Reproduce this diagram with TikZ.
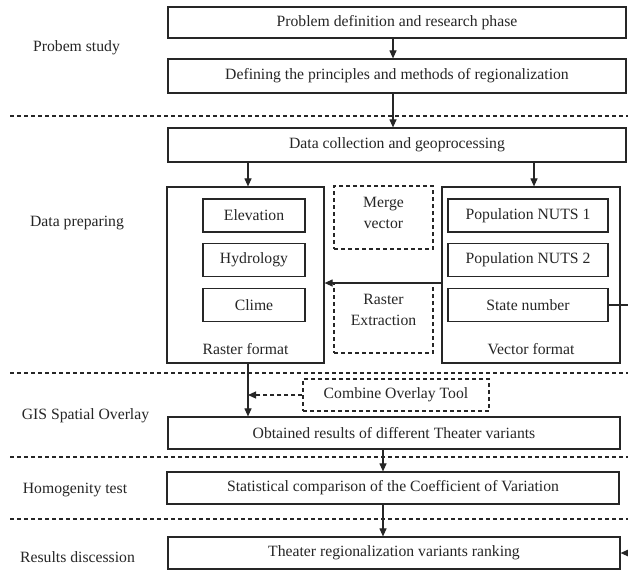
\documentclass[tikz,border=0pt]{standalone}
\usepackage{fontspec}
\setmainfont{Liberation Serif}
\usetikzlibrary{arrows.meta}
\definecolor{ink}{HTML}{262626}
\tikzset{
  txt/.style={font=\fontsize{15.7}{18}\selectfont, text=ink, inner sep=0pt},
  solidbox/.style={txt, draw=ink, line width=1.2pt, rectangle, align=center},
  dashbox/.style={txt, draw=ink, line width=1.1pt, rectangle, align=center, dash pattern=on 4pt off 3pt},
  sep/.style={draw=ink, line width=1.1pt, dash pattern=on 4pt off 3pt},
  arr/.style={draw=ink, line width=1.1pt, -{Triangle[length=8pt,width=7pt]}},
  darr/.style={arr, dash pattern=on 4pt off 3pt},
  plain/.style={draw=ink, line width=1.1pt},
}
\begin{document}
\begin{tikzpicture}[x=1pt,y=-1pt]
\useasboundingbox[fill=white] (0,0) rectangle (628,582);

% separators
\coordinate (s1l) at (10,116); \coordinate (s1r) at (628,116);
\coordinate (s2l) at (10,373); \coordinate (s2r) at (628,373);
\coordinate (s3l) at (10,457); \coordinate (s3r) at (628,457);
\coordinate (s4l) at (10,519); \coordinate (s4r) at (628,519);
\draw[sep] (s1l) -- (s1r);
\draw[sep] (s2l) -- (s2r);
\draw[sep] (s3l) -- (s3r);
\draw[sep] (s4l) -- (s4r);

% phase labels
\node[txt] (l1) at (76.5,48) {Probem study};
\node[txt] (l2) at (77,223) {Data preparing};
\node[txt] (l3) at (85.5,416) {GIS Spatial Overlay};
\node[txt] (l4) at (75,490) {Homogenity test};
\node[txt] (l5) at (77.5,557) {Results discession};

% top boxes
\node[solidbox, minimum width=458pt, minimum height=31pt] (b1) at (397,22.5) {Problem definition and research phase};
\node[solidbox, minimum width=458pt, minimum height=34pt] (b2) at (397,76) {Defining the principles and methods of regionalization};
\node[solidbox, minimum width=458pt, minimum height=34pt] (b3) at (397,145) {Data collection and geoprocessing};

% raster group
\node[solidbox, minimum width=157pt, minimum height=176pt] (raster) at (245.5,275) {};
\node[solidbox, minimum width=102pt, minimum height=33pt] (elev) at (254,215.5) {Elevation};
\node[solidbox, minimum width=102pt, minimum height=33pt] (hydro) at (254,260) {Hydrology};
\node[solidbox, minimum width=102pt, minimum height=33pt] (clime) at (254,305) {Clime};
\node[txt] (rlab) at (245.5,349) {Raster format};

% middle dashed boxes
\node[dashbox, minimum width=99pt, minimum height=63pt] (merge) at (383.5,217.5) {};
\node[txt, align=center] (mergetxt) at (383.5,212.5) {Merge\\[3pt]vector};
\node[dashbox, minimum width=99pt, minimum height=70pt] (rext) at (383.5,318) {};
\node[txt, align=center] (rexttxt) at (383.5,310) {Raster\\[3pt]Extraction};

% vector group
\node[solidbox, minimum width=178pt, minimum height=176pt] (vector) at (531,275) {};
\node[solidbox, minimum width=160pt, minimum height=33pt] (nuts1) at (528,215.5) {Population NUTS 1};
\node[solidbox, minimum width=160pt, minimum height=33pt] (nuts2) at (528,260) {Population NUTS 2};
\node[solidbox, minimum width=160pt, minimum height=33pt] (state) at (528,305) {State number};
\node[txt] (vlab) at (531,349) {Vector format};

% lower boxes
\node[dashbox, minimum width=186pt, minimum height=32pt] (combine) at (396,395) {Combine Overlay Tool};
\node[solidbox, minimum width=452pt, minimum height=32pt] (obt) at (394,433) {Obtained results of different Theater variants};
\node[solidbox, minimum width=452pt, minimum height=32pt] (stat) at (393,488) {Statistical comparison of the Coefficient of Variation};
\node[solidbox, minimum width=452pt, minimum height=32pt] (final) at (394,553) {Theater regionalization variants ranking};

% connectors
\draw[arr] ([xshift=-4pt]b1.south) -- ([xshift=-4pt]b2.north);
\draw[arr] ([xshift=-4pt]b2.south) -- ([xshift=-4pt]b3.north);
\draw[arr] ([xshift=2.5pt]raster.north |- b3.south) -- ([xshift=2.5pt]raster.north);
\draw[arr] ([xshift=3pt]vector.north |- b3.south) -- ([xshift=3pt]vector.north);
\draw[arr] ([yshift=-8pt]vector.west) -- ([yshift=-8pt]raster.east);
\coordinate (sr) at (628,305);
\draw[plain] (state.east) -- (sr);
\coordinate (fr) at (628,553);
\draw[arr] (fr) -- (final.east);
\draw[arr] ([xshift=2.5pt]raster.south) -- ([xshift=2.5pt]raster.south |- obt.north);
\coordinate (cj) at (248,395);
\draw[darr] (combine.west) -- (cj);
\draw[arr] ([xshift=-11pt]obt.south) -- ([xshift=-11pt]obt.south |- stat.north);
\draw[arr] ([xshift=-10pt]stat.south) -- ([xshift=-10pt]stat.south |- final.north);
\end{tikzpicture}
\end{document}
